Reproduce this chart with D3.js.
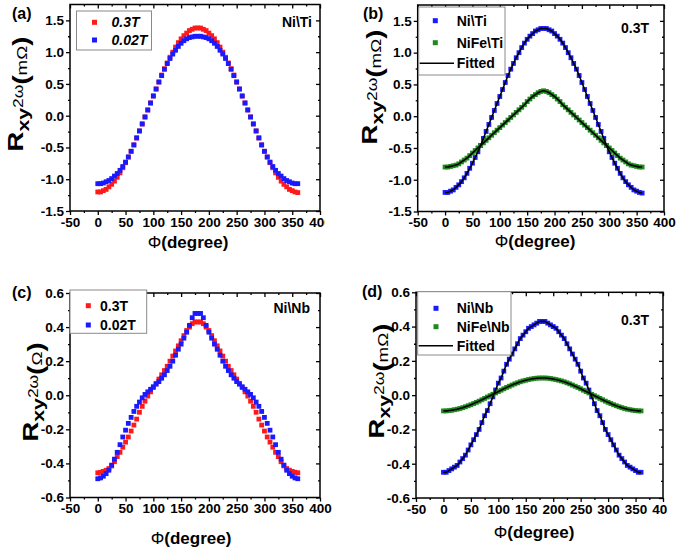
<!DOCTYPE html>
<html>
<head>
<meta charset="utf-8">
<script src="https://cdn.jsdelivr.net/npm/d3@7"></script>
<style>
body { margin: 0; background: #fff; }
svg { font-family: "Liberation Sans", Arial, sans-serif; font-weight: bold; }
</style>
</head>
<body>
<div id="chart"></div>
<script>
// angle (degree), every 5 degrees
var phi = [0, 5, 10, 15, 20, 25, 30, 35, 40, 45, 50, 55, 60, 65, 70, 75, 80, 85, 90,
    95, 100, 105, 110, 115, 120, 125, 130, 135, 140, 145, 150, 155, 160, 165, 170, 175, 180,
    185, 190, 195, 200, 205, 210, 215, 220, 225, 230, 235, 240, 245, 250, 255, 260, 265, 270,
    275, 280, 285, 290, 295, 300, 305, 310, 315, 320, 325, 330, 335, 340, 345, 350, 355, 360];

// (a) and (b): Ni\Ti, 0.3T (mOhm)
var niTi03 = [-1.20, -1.20, -1.18, -1.16, -1.12, -1.08, -1.03, -0.97, -0.90, -0.82, -0.74, -0.65, -0.56,
    -0.46, -0.35, -0.24, -0.13, -0.02, 0.09, 0.20, 0.31, 0.42, 0.53, 0.64, 0.74, 0.83, 0.92, 1.00,
    1.08, 1.15, 1.21, 1.26, 1.30, 1.34, 1.36, 1.38, 1.38,
    1.38, 1.36, 1.34, 1.30, 1.26, 1.21, 1.15, 1.08, 1.00, 0.92, 0.83, 0.74, 0.64, 0.53, 0.42, 0.31,
    0.20, 0.09, -0.02, -0.13, -0.24, -0.35, -0.46, -0.56, -0.65, -0.74, -0.82, -0.90, -0.97, -1.03,
    -1.08, -1.12, -1.16, -1.18, -1.20, -1.21];

// (a): Ni\Ti, 0.02T
var niTi002 = [-1.07, -1.07, -1.06, -1.04, -1.02, -0.99, -0.95, -0.91, -0.86, -0.80, -0.73, -0.65, -0.56,
    -0.46, -0.35, -0.24, -0.13, -0.02, 0.09, 0.20, 0.31, 0.42, 0.53, 0.63, 0.73, 0.82, 0.90, 0.97,
    1.03, 1.09, 1.14, 1.18, 1.21, 1.23, 1.24, 1.25, 1.25,
    1.25, 1.24, 1.23, 1.21, 1.18, 1.14, 1.09, 1.03, 0.97, 0.90, 0.82, 0.73, 0.63, 0.53, 0.42, 0.31,
    0.20, 0.09, -0.02, -0.13, -0.24, -0.35, -0.46, -0.56, -0.65, -0.73, -0.80, -0.86, -0.91, -0.95,
    -0.99, -1.02, -1.04, -1.06, -1.07, -1.07];

// (b): NiFe\Ti, 0.3T
var niFeTi03 = [-0.80, -0.80, -0.79, -0.78, -0.77, -0.75, -0.72, -0.69, -0.66, -0.62, -0.58, -0.54, -0.50,
    -0.46, -0.42, -0.38, -0.34, -0.30, -0.26, -0.22, -0.18, -0.14, -0.10, -0.06, -0.02, 0.02, 0.06,
    0.10, 0.14, 0.18, 0.23, 0.27, 0.31, 0.34, 0.37, 0.39, 0.40,
    0.39, 0.37, 0.34, 0.31, 0.27, 0.23, 0.18, 0.14, 0.10, 0.06, 0.02, -0.02, -0.06, -0.10, -0.14,
    -0.18, -0.22, -0.26, -0.30, -0.34, -0.38, -0.42, -0.46, -0.50, -0.54, -0.58, -0.62, -0.66, -0.69,
    -0.72, -0.75, -0.77, -0.78, -0.79, -0.80, -0.80];

// (c): Ni\Nb, 0.3T (Ohm)
var niNb03c = [-0.455, -0.452, -0.447, -0.44, -0.43, -0.415, -0.39, -0.36, -0.335, -0.305, -0.275, -0.245,
    -0.21, -0.175, -0.14, -0.10, -0.065, -0.035, -0.005, 0.02, 0.045, 0.07, 0.095, 0.12, 0.145, 0.17,
    0.20, 0.23, 0.26, 0.29, 0.32, 0.35, 0.38, 0.40, 0.42, 0.43, 0.43,
    0.43, 0.42, 0.40, 0.38, 0.35, 0.32, 0.29, 0.26, 0.23, 0.20, 0.17, 0.145, 0.12, 0.095, 0.07, 0.045,
    0.02, -0.005, -0.035, -0.065, -0.10, -0.14, -0.175, -0.21, -0.245, -0.275, -0.305, -0.335, -0.36,
    -0.39, -0.415, -0.43, -0.44, -0.447, -0.452, -0.455];

// (c): Ni\Nb, 0.02T
var niNb002c = [-0.49, -0.485, -0.475, -0.46, -0.44, -0.41, -0.375, -0.335, -0.29, -0.245, -0.205, -0.165,
    -0.13, -0.095, -0.065, -0.04, -0.015, 0.005, 0.02, 0.035, 0.05, 0.065, 0.08, 0.10, 0.12, 0.145,
    0.17, 0.20, 0.235, 0.27, 0.30, 0.335, 0.37, 0.41, 0.455, 0.48, 0.48,
    0.48, 0.455, 0.41, 0.37, 0.335, 0.30, 0.27, 0.235, 0.20, 0.17, 0.145, 0.12, 0.10, 0.08, 0.065, 0.05,
    0.035, 0.02, 0.005, -0.015, -0.04, -0.065, -0.095, -0.13, -0.165, -0.205, -0.245, -0.29, -0.335,
    -0.375, -0.41, -0.44, -0.46, -0.475, -0.485, -0.49];

// (d): Ni\Nb, 0.3T (mOhm)
var niNb03d = [-0.45, -0.45, -0.44, -0.43, -0.42, -0.41, -0.39, -0.37, -0.35, -0.32, -0.29, -0.26, -0.23,
    -0.20, -0.16, -0.12, -0.09, -0.05, -0.01, 0.03, 0.07, 0.10, 0.14, 0.18, 0.21, 0.24, 0.27, 0.30,
    0.33, 0.35, 0.37, 0.39, 0.40, 0.41, 0.42, 0.43, 0.43,
    0.43, 0.42, 0.41, 0.40, 0.39, 0.37, 0.35, 0.33, 0.30, 0.27, 0.24, 0.21, 0.18, 0.14, 0.10, 0.07,
    0.03, -0.01, -0.05, -0.09, -0.12, -0.16, -0.20, -0.23, -0.26, -0.29, -0.32, -0.35, -0.37, -0.39,
    -0.41, -0.42, -0.43, -0.44, -0.45, -0.45];

// (d): NiFe\Nb, 0.3T
var niFeNb03d = [-0.092, -0.092, -0.090, -0.088, -0.085, -0.082, -0.078, -0.073, -0.068, -0.062, -0.056,
    -0.049, -0.042, -0.035, -0.027, -0.019, -0.011, -0.003, 0.005, 0.013, 0.021, 0.029, 0.037, 0.045,
    0.052, 0.059, 0.066, 0.072, 0.078, 0.083, 0.087, 0.091, 0.094, 0.097, 0.099, 0.100, 0.100,
    0.100, 0.099, 0.097, 0.094, 0.091, 0.087, 0.083, 0.078, 0.072, 0.066, 0.059, 0.052, 0.045, 0.037,
    0.029, 0.021, 0.013, 0.005, -0.003, -0.011, -0.019, -0.027, -0.035, -0.042, -0.049, -0.056,
    -0.062, -0.068, -0.073, -0.078, -0.082, -0.085, -0.088, -0.090, -0.092, -0.092];

// tick values
var xTicks = [-50, 0, 50, 100, 150, 200, 250, 300, 350, 400];
var xMinor = [-25, 25, 75, 125, 175, 225, 275, 325, 375];
var yTicksTi = [-1.5, -1.0, -0.5, 0.0, 0.5, 1.0, 1.5];
var yMinorTi = [-1.25, -0.75, -0.25, 0.25, 0.75, 1.25];
var yTicksNb = [-0.6, -0.4, -0.2, 0.0, 0.2, 0.4, 0.6];
var yMinorNb = [-0.5, -0.3, -0.1, 0.1, 0.3, 0.5];

var RED = "#ff1a1a", BLUE = "#1a1aff", GREEN = "#1e8a1e";

// plain hyphen for negative numbers, like the original
var loc = d3.formatLocale({ decimal: ".", thousands: ",", grouping: [3], currency: ["", ""], minus: "-" });

var svg = d3.select("#chart").append("svg")
    .attr("width", 676)
    .attr("height", 550);

var defs = svg.append("defs");

function drawPanel(p) {
    var x = d3.scaleLinear().domain([-50, 400]).range([p.left, p.right]);
    var y = d3.scaleLinear().domain(p.yDomain).range([p.bottom, p.top]);
    var g = svg.append("g");

    // the "400" label is cut off in panels (a) and (d)
    var clipId = "clip-" + p.name;
    defs.append("clipPath").attr("id", clipId)
        .append("rect").attr("x", 0).attr("y", 0).attr("width", p.clipX).attr("height", 550);

    // bottom axis (major + minor), outward ticks
    g.append("g")
        .attr("transform", "translate(0," + p.bottom + ")")
        .attr("clip-path", "url(#" + clipId + ")")
        .call(d3.axisBottom(x).tickValues(xTicks).tickSize(4).tickPadding(2).tickFormat(loc.format("d")));
    g.append("g")
        .attr("transform", "translate(0," + p.bottom + ")")
        .call(d3.axisBottom(x).tickValues(xMinor).tickSize(2).tickFormat(""));

    // left axis
    g.append("g")
        .attr("transform", "translate(" + p.left + ",0)")
        .call(d3.axisLeft(y).tickValues(p.yTicks).tickSize(4).tickPadding(2).tickFormat(loc.format(".1f")));
    g.append("g")
        .attr("transform", "translate(" + p.left + ",0)")
        .call(d3.axisLeft(y).tickValues(p.yMinor).tickSize(2).tickFormat(""));

    // top and right mirrored ticks, pointing inward
    g.append("g")
        .attr("transform", "translate(0," + p.top + ")")
        .call(d3.axisTop(x).tickValues(xTicks).tickSize(-4).tickFormat(""));
    g.append("g")
        .attr("transform", "translate(0," + p.top + ")")
        .call(d3.axisTop(x).tickValues(xMinor).tickSize(-2).tickFormat(""));
    g.append("g")
        .attr("transform", "translate(" + p.right + ",0)")
        .call(d3.axisRight(y).tickValues(p.yTicks).tickSize(-4).tickFormat(""));
    g.append("g")
        .attr("transform", "translate(" + p.right + ",0)")
        .call(d3.axisRight(y).tickValues(p.yMinor).tickSize(-2).tickFormat(""));

    g.selectAll(".domain").remove();
    g.selectAll(".tick line").attr("stroke", "#000").attr("stroke-width", 1.3);
    g.selectAll(".tick text")
        .attr("fill", "#000")
        .style("font-family", "'Liberation Sans', Arial, sans-serif")
        .style("font-weight", "bold")
        .style("font-size", "13.5px");

    // frame
    g.append("rect")
        .attr("x", p.left).attr("y", p.top)
        .attr("width", p.right - p.left).attr("height", p.bottom - p.top)
        .attr("fill", "none").attr("stroke", "#000").attr("stroke-width", 1.5);

    // markers
    p.series.forEach(function (s) {
        g.append("g").selectAll("rect")
            .data(phi.map(function (d, i) { return [d, s.values[i]]; }))
            .enter()
            .append("rect")
            .attr("x", function (d) { return x(d[0]) - 2.4; })
            .attr("y", function (d) { return y(d[1]) - 2.4; })
            .attr("width", 4.8)
            .attr("height", 4.8)
            .attr("fill", s.color);
    });

    // fitted lines
    if (p.fitted) {
        var line = d3.line()
            .x(function (d) { return x(d[0]); })
            .y(function (d) { return y(d[1]); })
            .curve(d3.curveCatmullRom);
        p.series.forEach(function (s) {
            g.append("path")
                .datum(phi.map(function (d, i) { return [d, s.values[i]]; }))
                .attr("d", line)
                .attr("fill", "none")
                .attr("stroke", "#000")
                .attr("stroke-width", 1.6);
        });
    }

    // legend
    var L = p.legend;
    g.append("rect")
        .attr("x", L.x0).attr("y", L.y0)
        .attr("width", L.x1 - L.x0).attr("height", L.y1 - L.y0)
        .attr("fill", "#fff").attr("stroke", "#8a8a8a").attr("stroke-width", 1);
    p.series.forEach(function (s, i) {
        g.append("rect")
            .attr("x", L.mx - 2.5).attr("y", L.rows[i] - 2.5)
            .attr("width", 5).attr("height", 5)
            .attr("fill", s.color);
        g.append("text")
            .attr("x", L.tx).attr("y", L.rows[i] + 5)
            .style("font-size", "14px")
            .style("font-style", L.italic ? "italic" : "normal")
            .text(s.label);
    });
    if (p.fitted) {
        g.append("line")
            .attr("x1", L.x0 + 1).attr("x2", L.lx)
            .attr("y1", L.rows[2]).attr("y2", L.rows[2])
            .attr("stroke", "#000").attr("stroke-width", 1.6);
        g.append("text")
            .attr("x", L.tx).attr("y", L.rows[2] + 5)
            .style("font-size", "14px")
            .text("Fitted");
    }

    // annotation in the top right corner
    g.append("text")
        .attr("x", p.note.x).attr("y", p.note.y)
        .attr("text-anchor", "end")
        .style("font-size", "14px")
        .text(p.note.text);

    // panel label
    g.append("text")
        .attr("x", p.tag.x).attr("y", p.tag.y)
        .style("font-size", "16px")
        .text(p.tag.text);

    // x title
    var xt = g.append("text")
        .attr("x", p.xTitle.x).attr("y", p.xTitle.y)
        .attr("text-anchor", "middle")
        .style("font-size", "17px");
    xt.append("tspan").style("font-weight", "normal").text("Φ");
    xt.append("tspan").text("(degree)");

    // y title
    var yt = g.append("text")
        .attr("transform", "translate(" + p.yTitle.x + "," + p.yTitle.y + ") rotate(-90) scale(1.25,1)")
        .attr("text-anchor", "middle");
    yt.append("tspan").style("font-size", "22px").text("R");
    yt.append("tspan").style("font-size", "17px").attr("dy", 6).text("xy");
    yt.append("tspan").style("font-size", "14px").style("font-weight", "normal").attr("dy", -6).text("2ω");
    yt.append("tspan").style("font-size", "22px").attr("dy", 5).text("(");
    yt.append("tspan").style("font-size", "15px").style("font-weight", "normal").attr("dy", -1).text(p.unit);
    yt.append("tspan").style("font-size", "22px").attr("dy", 1).text(")");
}

drawPanel({
    name: "a", left: 70, right: 320, top: 4.5, bottom: 211, clipX: 325,
    yDomain: [-1.5, 1.75], yTicks: yTicksTi, yMinor: yMinorTi,
    series: [
        { label: "0.3T", values: niTi03, color: RED },
        { label: "0.02T", values: niTi002, color: BLUE }
    ],
    legend: { x0: 76.5, y0: 11, x1: 151.5, y1: 50, mx: 94.5, tx: 111.5, rows: [22.3, 40], italic: true },
    note: { text: "Ni\\Ti", x: 312, y: 27 },
    tag: { text: "(a)", x: 12, y: 19 },
    xTitle: { x: 188, y: 248 },
    yTitle: { x: 23, y: 94 },
    unit: "mΩ"
});

drawPanel({
    name: "b", left: 417.7, right: 664, top: 5, bottom: 211.5, clipX: 676,
    yDomain: [-1.5, 1.75], yTicks: yTicksTi, yMinor: yMinorTi,
    series: [
        { label: "Ni\\Ti", values: niTi03, color: BLUE },
        { label: "NiFe\\Ti", values: niFeTi03, color: GREEN }
    ],
    fitted: true,
    legend: { x0: 418.7, y0: 7, x1: 505, y1: 75, mx: 435.3, tx: 456.7, lx: 454, rows: [20.7, 42.7, 63.3] },
    note: { text: "0.3T", x: 649, y: 33 },
    tag: { text: "(b)", x: 363, y: 19 },
    xTitle: { x: 535, y: 247 },
    yTitle: { x: 377, y: 87 },
    unit: "mΩ"
});

drawPanel({
    name: "c", left: 70, right: 320, top: 293, bottom: 497.5, clipX: 676,
    yDomain: [-0.6, 0.6], yTicks: yTicksNb, yMinor: yMinorNb,
    series: [
        { label: "0.3T", values: niNb03c, color: RED },
        { label: "0.02T", values: niNb002c, color: BLUE }
    ],
    legend: { x0: 70, y0: 290, x1: 146.7, y1: 333.3, mx: 88.3, tx: 100, rows: [305.7, 325] },
    note: { text: "Ni\\Nb", x: 310, y: 313 },
    tag: { text: "(c)", x: 12, y: 298 },
    xTitle: { x: 191, y: 544 },
    yTitle: { x: 38, y: 392 },
    unit: "Ω"
});

drawPanel({
    name: "d", left: 416, right: 663, top: 292.3, bottom: 498, clipX: 667,
    yDomain: [-0.6, 0.6], yTicks: yTicksNb, yMinor: yMinorNb,
    series: [
        { label: "Ni\\Nb", values: niNb03d, color: BLUE },
        { label: "NiFe\\Nb", values: niFeNb03d, color: GREEN }
    ],
    fitted: true,
    legend: { x0: 417.7, y0: 291.7, x1: 511, y1: 355, mx: 436, tx: 456.7, lx: 453, rows: [308.3, 326.7, 345.7] },
    note: { text: "0.3T", x: 649, y: 325 },
    tag: { text: "(d)", x: 362, y: 297 },
    xTitle: { x: 534, y: 537.5 },
    yTitle: { x: 384, y: 381 },
    unit: "mΩ"
});
</script>
</body>
</html>
